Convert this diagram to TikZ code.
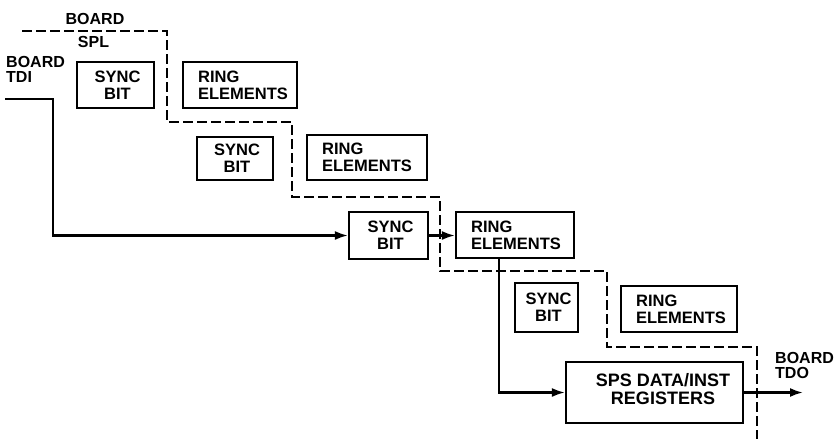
\documentclass[tikz,border=0pt]{standalone}
\usepackage{fontspec}
\setmainfont{Liberation Sans}
\usetikzlibrary{arrows.meta}
\begin{document}
\begin{tikzpicture}[x=1pt,y=-1pt,
  box/.style={draw, line width=2.2pt, inner sep=0pt},
  txt/.style={font=\bfseries\fontsize{16.5}{17}\selectfont, inner sep=0pt, align=left},
  ctxt/.style={txt, align=center},
  lbl/.style={font=\bfseries\fontsize{16}{15}\selectfont, inner sep=0pt, align=left},
  wire/.style={line width=2.2pt},
  bound/.style={line width=2.2pt, dash pattern=on 10pt off 4pt},
  arr/.style={wire, -{Latex[length=13pt,width=9pt]}}]
\useasboundingbox (0,0) rectangle (836,439);
% boxes
\node[box, minimum width=77pt, minimum height=46pt] (s1) at (115.5,85) {};
\node[box, minimum width=114pt, minimum height=46pt] (r1) at (240,85) {};
\node[box, minimum width=76pt, minimum height=43pt] (s2) at (235,158.5) {};
\node[box, minimum width=120pt, minimum height=45pt] (r2) at (367,157.5) {};
\node[box, minimum width=79pt, minimum height=47pt] (s3) at (388.5,235.5) {};
\node[box, minimum width=118pt, minimum height=46pt] (r3) at (515,235) {};
\node[box, minimum width=63pt, minimum height=49pt] (s4) at (546.5,307.5) {};
\node[box, minimum width=116pt, minimum height=46pt] (r4) at (679,309) {};
\node[box, minimum width=177pt, minimum height=61pt] (sps) at (654.5,392.5) {};
% box texts
\node[ctxt] (s1t) at ([xshift=2pt]s1.center) {SYNC\\BIT};
\node[ctxt] (s2t) at ([xshift=2pt]s2.center) {SYNC\\BIT};
\node[ctxt] (s3t) at ([xshift=2pt]s3.center) {SYNC\\BIT};
\node[ctxt] (s4t) at ([xshift=2pt]s4.center) {SYNC\\BIT};
\node[txt, anchor=west] (r1t) at ([xshift=16pt]r1.west) {RING\\ELEMENTS};
\node[txt, anchor=west] (r2t) at ([xshift=16pt]r2.west) {RING\\ELEMENTS};
\node[txt, anchor=west] (r3t) at ([xshift=16pt]r3.west) {RING\\ELEMENTS};
\node[txt, anchor=west] (r4t) at ([xshift=16pt]r4.west) {RING\\ELEMENTS};
\node[ctxt, font=\bfseries\fontsize{18}{17.5}\selectfont] (spst) at (663,389) {SPS DATA/INST\\REGISTERS};
% labels
\node[lbl] (bd) at (95,18.5) {BOARD};
\node[lbl] (spl) at (93.5,41.5) {SPL};
\node[lbl, anchor=west] (tdil) at (6,69) {BOARD\\TDI};
\node[lbl, anchor=west] (tdol) at (775,365) {BOARD\\TDO};
% boundary
\draw[bound] (22,31) -- (167,31) -- (167,122) -- (292,122) -- (292,197) -- (440,197)
  -- (440,271) -- (607,271) -- (607,347) -- (757,347) -- (757,439);
% signal path
\coordinate (tdi) at (5,99);
\coordinate (tdibend) at (53,99);
\coordinate (tdo) at (803,392.5);
\draw[arr] (tdi) -- (tdibend) |- (s3.west);
\draw[arr] (s3.east) -- (s3.east -| r3.west);
\draw[arr] ([xshift=-16pt]r3.south) |- (sps.west);
\draw[arr] (sps.east) -- (sps.east -| tdo);
\end{tikzpicture}
\end{document}
